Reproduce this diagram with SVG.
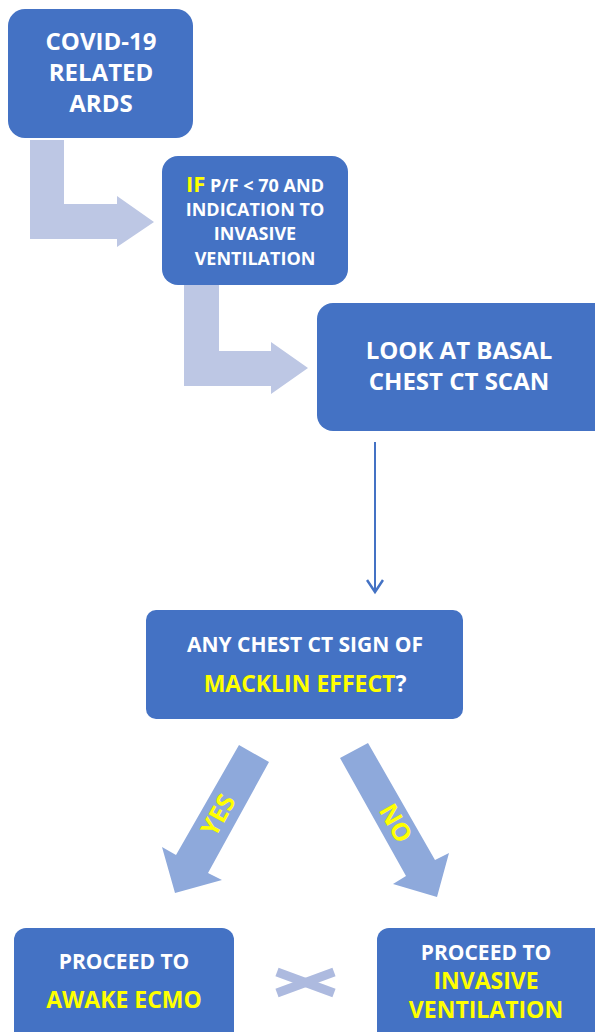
<svg xmlns="http://www.w3.org/2000/svg" width="595" height="1032" viewBox="0 0 595 1032">
<defs>
<style>
.box{fill:#4472C4}
.t{font-family:"Open Sans","Liberation Sans",sans-serif;font-weight:bold;fill:#FFFFFF;text-anchor:middle}
.y{fill:#FFFF00}
.elbow{fill:#BDC7E4}
.diag{fill:#8EA9DB}
</style>
<marker id="chev" markerWidth="18" markerHeight="18" refX="9" refY="15" orient="0" markerUnits="userSpaceOnUse">
<path d="M1,3 L9,15 L17,3" fill="none" stroke="#4472C4" stroke-width="2.5"/>
</marker>
</defs>
<rect width="595" height="1032" fill="#FFFFFF"/>
<g id="connectors">
<polygon class="elbow" points="30,140 64,140 64,204 117,204 117,196 154,222 117,247 117,239 30,239"/>
<polygon class="elbow" points="184,285 219,285 219,351 271,351 271,342 308,368 271,394 271,386 184,386"/>
<line x1="375" y1="442" x2="375" y2="592" stroke="#4472C4" stroke-width="2" marker-end="url(#chev)"/>
<g id="yes-arrow">
<polygon class="diag" points="239,745 269,762 208,873 222,880 175,893 162,847 176,855"/>
<text class="t y" font-size="25" transform="translate(218,815) rotate(-61)" dy="9">YES</text>
</g>
<g id="no-arrow">
<polygon class="diag" points="340,758 368,743 435,860 449,853 437,897 393,884 406,876"/>
<text class="t y" font-size="25" transform="translate(396,823) rotate(60.5)" dy="9">NO</text>
</g>
<g id="cross" stroke="#ADBADF" stroke-width="9">
<line x1="277" y1="972" x2="334" y2="993"/>
<line x1="277" y1="993" x2="334" y2="972"/>
</g>
</g>
<g id="node-covid">
<rect class="box" x="8" y="9" width="185" height="129" rx="17"/>
<text class="t" font-size="24" x="101" y="50">COVID-19</text>
<text class="t" font-size="24" x="101" y="81">RELATED</text>
<text class="t" font-size="24" x="101" y="112">ARDS</text>
</g>
<g id="node-if">
<rect class="box" x="162" y="156" width="186" height="129" rx="16"/>
<text class="t" font-size="18" x="255" y="192"><tspan class="y" font-size="22">IF</tspan> P/F &lt; 70 AND</text>
<text class="t" font-size="18" x="255" y="216">INDICATION TO</text>
<text class="t" font-size="18" x="255" y="240">INVASIVE</text>
<text class="t" font-size="18" x="255" y="265">VENTILATION</text>
</g>
<g id="node-look">
<rect class="box" x="317" y="303" width="296" height="128" rx="16"/>
<text class="t" font-size="24" x="459" y="359">LOOK AT BASAL</text>
<text class="t" font-size="24" x="459" y="390">CHEST CT SCAN</text>
</g>
<g id="node-macklin">
<rect class="box" x="146" y="610" width="317" height="109" rx="10"/>
<text class="t" font-size="21" x="305" y="652">ANY CHEST CT SIGN OF</text>
<text class="t" font-size="23" x="305" y="692"><tspan class="y">MACKLIN EFFECT</tspan>?</text>
</g>
<g id="node-ecmo">
<rect class="box" x="14" y="928" width="220" height="120" rx="12"/>
<text class="t" font-size="21" x="124" y="969">PROCEED TO</text>
<text class="t y" font-size="23" x="124" y="1008">AWAKE ECMO</text>
</g>
<g id="node-invasive">
<rect class="box" x="377" y="928" width="236" height="120" rx="12"/>
<text class="t" font-size="21" x="486" y="960">PROCEED TO</text>
<text class="t y" font-size="23" x="486" y="989">INVASIVE</text>
<text class="t y" font-size="23" x="486" y="1018">VENTILATION</text>
</g>
</svg>
